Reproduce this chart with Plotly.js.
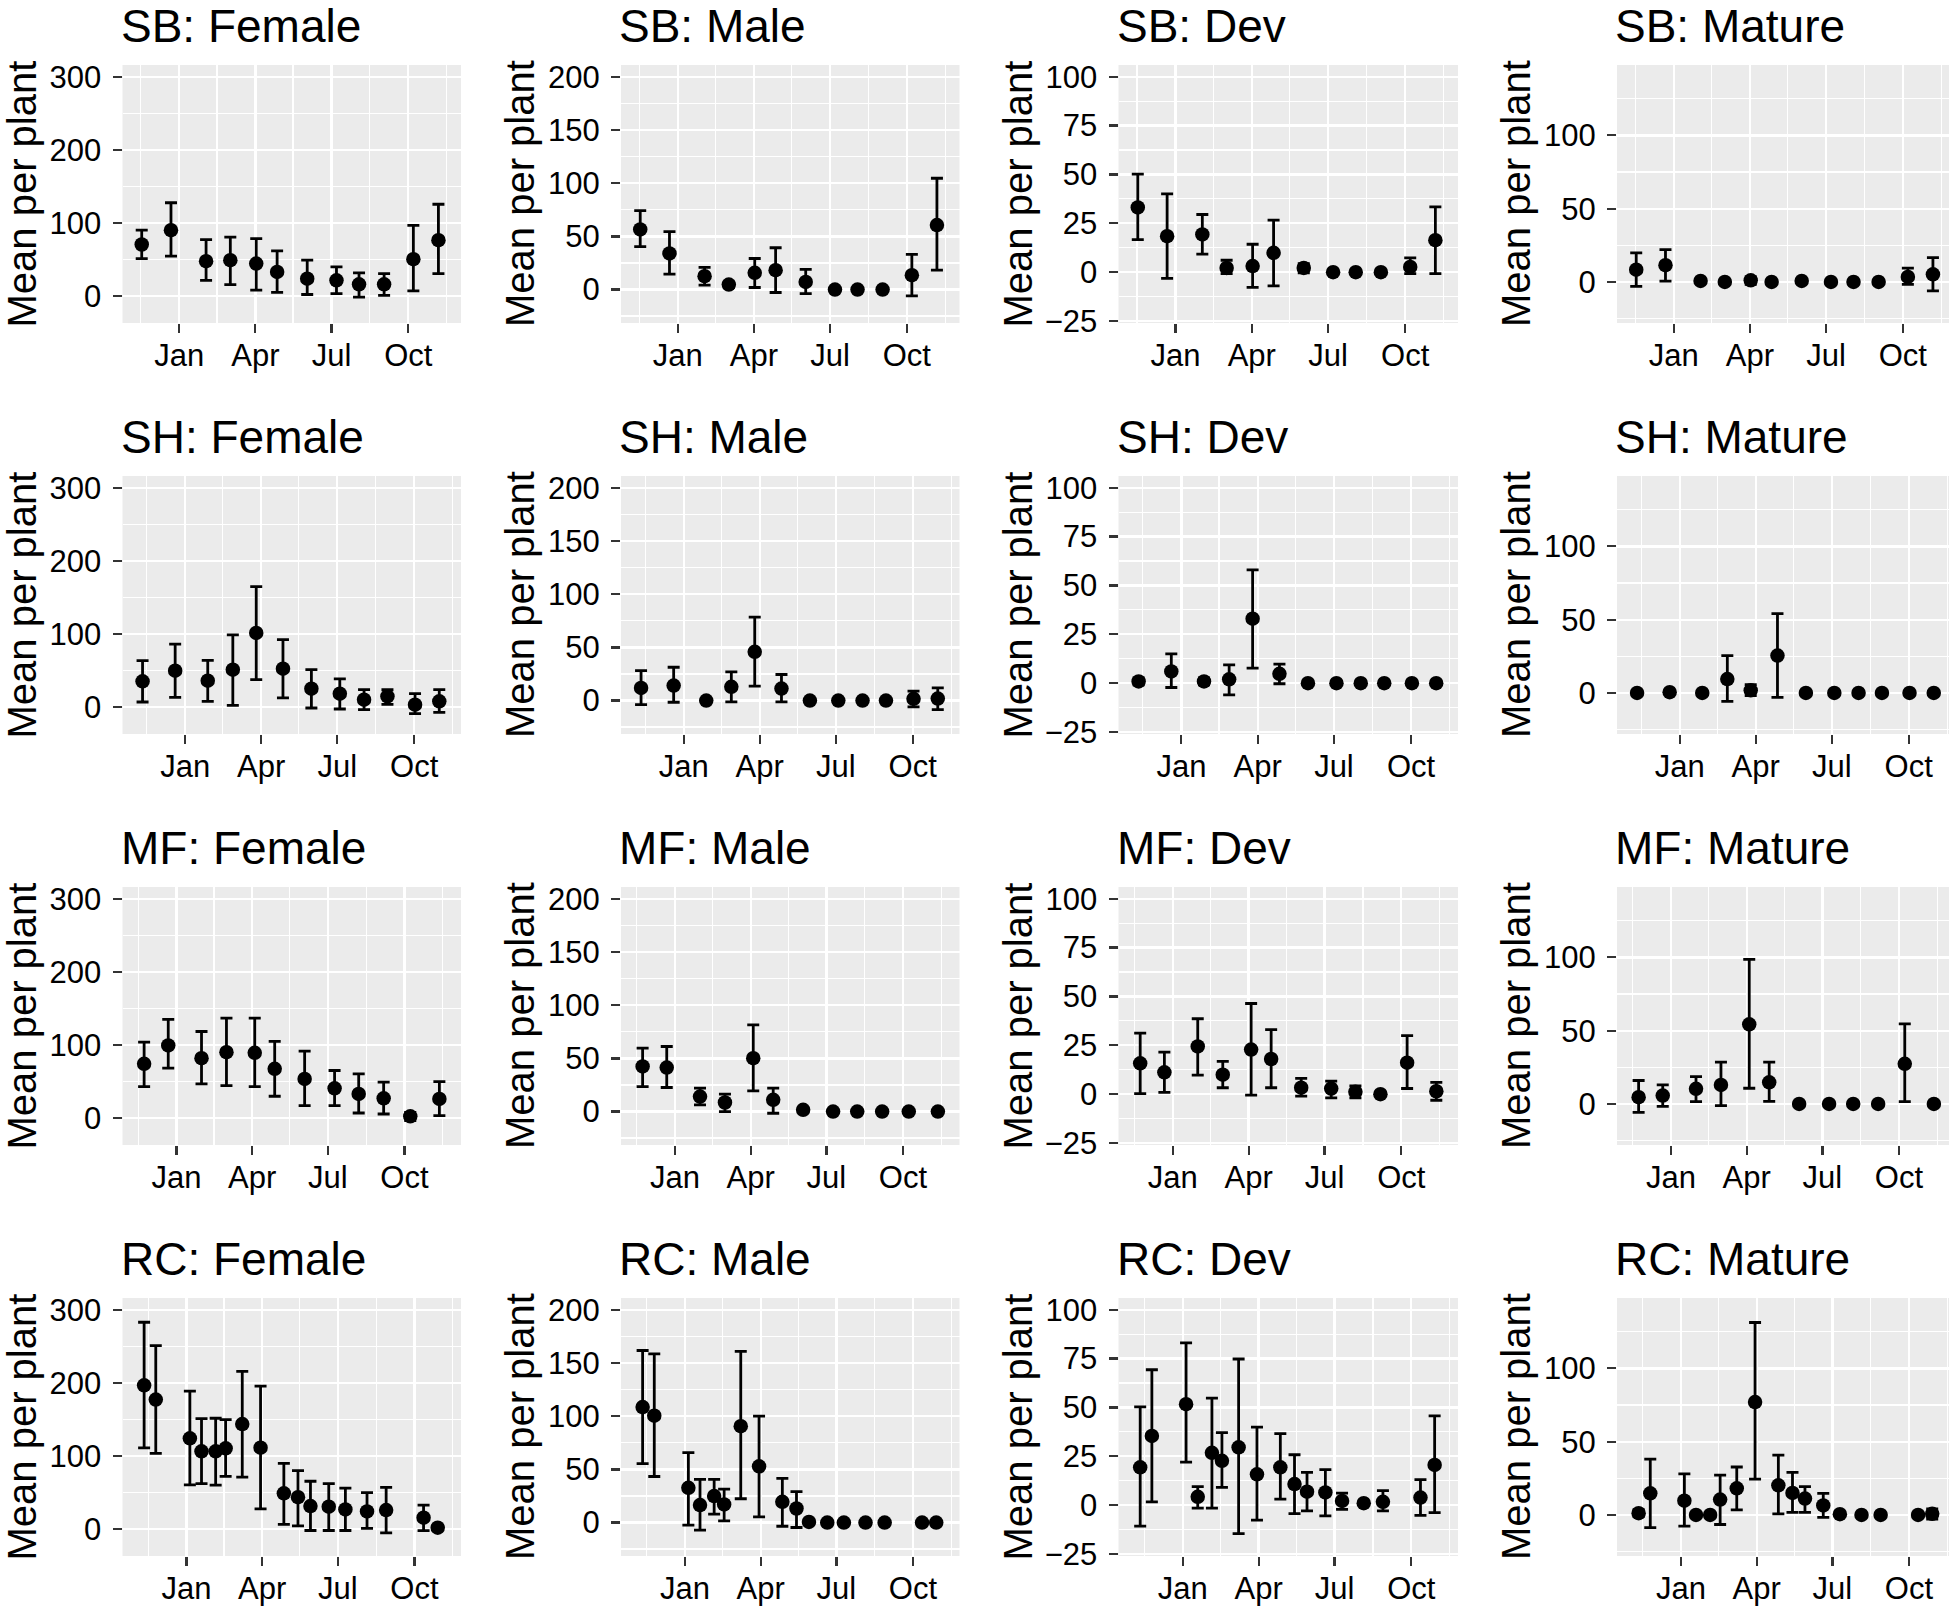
<!DOCTYPE html>
<html>
<head>
<meta charset="utf-8">
<script src="https://cdn.plot.ly/plotly-3.0.1.min.js"></script>
<style>html,body{margin:0;padding:0;background:#fff;}#chart{width:1959px;height:1608px;}</style>
</head>
<body>
<div id="chart"></div>
<script>
// ---------------- DATA ----------------
const sites = ['SB', 'SH', 'MF', 'RC'];
const stages = ['Female', 'Male', 'Dev', 'Mature'];
const monthTickDates = ['2016-01-01', '2016-04-01', '2016-07-01', '2016-10-01'];
const monthTickText = ['Jan', 'Apr', 'Jul', 'Oct'];
const monthMinorDates = ['2015-11-16', '2016-02-15', '2016-05-16', '2016-08-16', '2016-11-16'];

const sbDates = ['2015-11-17','2015-12-22','2016-02-02','2016-03-02','2016-04-02','2016-04-27','2016-06-02','2016-07-07','2016-08-03','2016-09-02','2016-10-07','2016-11-06'];
const shDates = ['2015-11-11','2015-12-20','2016-01-28','2016-02-27','2016-03-26','2016-04-27','2016-05-31','2016-07-04','2016-08-02','2016-08-30','2016-10-02','2016-10-31'];
const mfDates = ['2015-11-23','2015-12-22','2016-01-31','2016-03-01','2016-04-04','2016-04-28','2016-06-03','2016-07-09','2016-08-07','2016-09-06','2016-10-08','2016-11-12'];
const rcDates = ['2015-11-11','2015-11-25','2016-01-05','2016-01-19','2016-02-05','2016-02-17','2016-03-08','2016-03-30','2016-04-27','2016-05-14','2016-05-29','2016-06-20','2016-07-10','2016-08-05','2016-08-28','2016-10-12','2016-10-29'];

const sbRange = ['2015-10-25', '2016-12-03'];
const shRange = ['2015-10-18', '2016-11-26'];
const mfRange = ['2015-10-28', '2016-12-08'];
const rcRange = ['2015-10-16', '2016-11-26'];

// SB
const sbFemaleMean  = [70.9, 90.5, 48.0, 49.4, 44.8, 33.4, 24.2, 21.9, 16.5, 16.5, 50.8, 76.8];
const sbFemaleUpper = [90.5, 128.0, 77.7, 80.9, 79.0, 62.1, 49.4, 40.2, 32.0, 31.0, 97.1, 126.0];
const sbFemaleLower = [51.7, 54.9, 21.9, 16.0, 8.5, 5.5, 2.5, 3.7, -1.0, 1.4, 7.5, 31.0];
const sbMaleMean  = [56.6, 34.0, 12.6, 4.7, 15.7, 18.2, 7.2, 0, 0, 0, 13.5, 60.7];
const sbMaleUpper = [74.2, 54.4, 20.8, 7.2, 29.2, 39.3, 18.9, 0, 0, 0, 33.0, 104.7];
const sbMaleLower = [40.3, 14.5, 4.1, 1.9, 1.9, -2.8, -3.8, 0, 0, 0, -5.9, 18.2];
const sbDevMean  = [33.1, 18.4, 19.3, 2.2, 3.1, 9.9, 2.2, 0, 0, 0, 2.7, 16.4];
const sbDevUpper = [50.2, 40.1, 29.5, 6.1, 14.3, 26.6, 4.4, 0, 0, 0, 7.3, 33.4];
const sbDevLower = [16.7, -3.2, 9.2, -0.7, -7.8, -7.0, -0.3, 0, 0, 0, -0.7, -0.7];
const sbMatureMean  = [8.4, 11.4, 0.7, 0, 1.1, 0, 0.7, 0, 0, 0, 3.4, 5.2];
const sbMatureUpper = [19.8, 22.0, 0.7, 0, 3.4, 0, 0.7, 0, 0, 0, 9.5, 16.6];
const sbMatureLower = [-3.0, 0.5, 0.7, 0, -1.6, 0, 0.7, 0, 0, 0, -1.6, -6.1];

// SH
const shFemaleMean  = [35.6, 50.2, 36.5, 51.5, 101.7, 52.9, 25.5, 18.7, 10.5, 15.0, 3.6, 8.2];
const shFemaleUpper = [63.8, 86.6, 64.3, 99.2, 165.1, 92.6, 51.5, 38.8, 24.2, 24.2, 18.7, 24.2];
const shFemaleLower = [7.3, 13.7, 8.2, 2.7, 37.8, 12.8, -0.9, -2.3, -3.2, 4.0, -8.7, -6.8];
const shMaleMean  = [11.9, 14.1, 0, 12.9, 45.8, 11.3, 0, 0, 0, 0, 1.6, 1.9];
const shMaleUpper = [28.2, 31.3, 0, 27.0, 78.4, 24.5, 0, 0, 0, 0, 8.8, 11.9];
const shMaleLower = [-3.8, -1.6, 0, -1.3, 13.5, -1.3, 0, 0, 0, 0, -5.9, -8.5];
const shDevMean  = [0.9, 6.0, 0.9, 2.0, 33.0, 4.8, 0, 0, 0, 0, 0, 0];
const shDevUpper = [2.6, 15.0, 2.6, 9.4, 58.0, 9.7, 0, 0, 0, 0, 0, 0];
const shDevLower = [-0.9, -2.2, -0.9, -6.0, 7.7, -0.3, 0, 0, 0, 0, 0, 0];
const shMatureMean  = [0, 0.5, 0, 9.5, 1.8, 25.5, 0, 0, 0, 0, 0, 0];
const shMatureUpper = [0, 0.5, 0, 25.5, 5.7, 54.1, 0, 0, 0, 0, 0, 0];
const shMatureLower = [0, 0.5, 0, -5.7, -1.8, -3.0, 0, 0, 0, 0, 0, 0];

// MF
const mfFemaleMean  = [74.5, 99.7, 82.3, 90.5, 89.6, 67.7, 53.9, 41.1, 33.4, 27.4, 2.7, 26.5];
const mfFemaleUpper = [104.3, 135.4, 118.8, 137.2, 137.2, 105.2, 91.9, 65.4, 60.8, 49.4, 8.2, 50.3];
const mfFemaleLower = [43.4, 68.6, 47.1, 44.8, 43.4, 30.2, 17.4, 17.4, 7.3, 5.9, -3.2, 3.7];
const mfMaleMean  = [42.4, 41.4, 14.1, 8.5, 50.2, 11.0, 1.6, 0, 0, 0, 0, 0];
const mfMaleUpper = [59.7, 61.2, 22.0, 16.3, 81.6, 22.0, 1.6, 0, 0, 0, 0, 0];
const mfMaleLower = [23.5, 22.6, 6.3, 0.0, 19.5, -1.6, 1.6, 0, 0, 0, 0, 0];
const mfDevMean  = [15.8, 11.2, 24.4, 10.0, 22.8, 18.0, 3.3, 2.9, 1.2, 0, 16.1, 1.5];
const mfDevUpper = [31.2, 21.5, 38.6, 16.8, 46.4, 33.0, 8.1, 6.7, 4.3, 0, 30.0, 6.0];
const mfDevLower = [0.3, 0.9, 9.8, 3.3, -0.5, 3.3, -1.0, -1.9, -1.9, 0, 2.9, -3.1];
const mfMatureMean  = [4.6, 5.7, 10.3, 13.0, 54.3, 14.8, 0, 0, 0, 0, 27.4, 0];
const mfMatureUpper = [16.0, 13.0, 18.7, 28.5, 98.6, 28.5, 0, 0, 0, 0, 54.6, 0];
const mfMatureLower = [-5.7, -1.6, 1.6, -1.1, 10.7, 1.8, 0, 0, 0, 0, 1.6, 0];

// RC
const rcFemaleMean  = [197.0, 177.5, 124.5, 106.7, 106.7, 110.8, 144.0, 111.7, 49.2, 43.9, 31.8, 30.9, 27.2, 24.4, 26.3, 16.0, 2.3];
const rcFemaleUpper = [283.3, 251.3, 189.0, 151.5, 152.0, 150.0, 216.0, 195.8, 90.3, 80.4, 65.8, 62.4, 56.5, 50.3, 57.4, 33.2, 5.0];
const rcFemaleLower = [111.5, 104.0, 60.8, 62.6, 60.4, 72.5, 71.5, 28.1, 6.9, 4.6, -1.6, -1.6, -1.6, 1.2, -4.8, -1.8, -0.3];
const rcMaleMean  = [108.7, 100.5, 32.7, 16.4, 24.9, 17.0, 90.7, 52.9, 19.5, 13.2, 0.6, 0, 0, 0, 0, 0, 0];
const rcMaleUpper = [161.9, 158.7, 65.7, 40.6, 40.6, 31.5, 161.0, 100.2, 41.6, 29.0, 0.6, 0, 0, 0, 0, 0, 0];
const rcMaleLower = [55.4, 43.3, -2.5, -7.2, 7.9, 1.6, 22.4, 5.3, -3.5, -4.7, 0.6, 0, 0, 0, 0, 0, 0];
const rcDevMean  = [19.4, 35.4, 51.7, 4.3, 26.8, 22.7, 29.6, 15.8, 19.4, 10.8, 6.9, 6.5, 2.2, 1.0, 1.7, 3.9, 20.6];
const rcDevUpper = [50.3, 69.3, 83.0, 9.5, 54.8, 37.1, 74.8, 39.9, 36.6, 25.8, 16.8, 18.2, 6.2, 1.0, 7.4, 13.1, 45.7];
const rcDevLower = [-10.7, 1.7, 22.0, -1.5, -1.5, 9.1, -14.6, -7.6, 3.1, -4.3, -2.9, -5.5, -2.1, 1.0, -2.9, -5.2, -3.8];
const rcMatureMean  = [1.2, 14.8, 9.7, 0, 0, 10.5, 18.2, 77.0, 20.2, 15.0, 11.2, 6.5, 0.5, 0, 0, 0, 0.8];
const rcMatureUpper = [3.6, 38.1, 28.0, 0, 0, 27.2, 32.7, 131.3, 40.8, 29.0, 19.3, 14.7, 0.5, 0, 0, 0, 4.2];
const rcMatureLower = [-1.2, -8.7, -7.6, 0, 0, -6.5, 3.4, 24.4, 0.7, 1.7, 1.7, -1.7, 0.5, 0, 0, 0, -2.9];

// y-axis settings per stage column
const femaleTicks = [0, 100, 200, 300];
const femaleMinor = [50, 150, 250];
const maleTicks = [0, 50, 100, 150, 200];
const maleMinor = [-25, 25, 75, 125, 175];
const devTicks = [-25, 0, 25, 50, 75, 100];
const devMinor = [-12.5, 12.5, 37.5, 62.5, 87.5];
const matureTicks = [0, 50, 100];
const matureMinor = [-25, 25, 75, 125];
const femaleRange = [-36.5, 316.5];
const maleRange = [-31.5, 211.3];
const devRange = [-26, 106];
const matureRange = [-28, 148];

// ---------------- BUILD ----------------
const W = 1959, H = 1608;
const colPx = [[122.5, 461], [621, 959.5], [1118.5, 1458], [1617, 1949]];
const rowPx = [[65, 323], [476, 734], [887, 1145], [1298, 1556]];
const FONT = 'Liberation Sans, Arial, Helvetica, sans-serif';

const rowDates = [sbDates, shDates, mfDates, rcDates];
const rowRanges = [sbRange, shRange, mfRange, rcRange];
const series = [
  [[sbFemaleMean, sbFemaleUpper, sbFemaleLower], [sbMaleMean, sbMaleUpper, sbMaleLower], [sbDevMean, sbDevUpper, sbDevLower], [sbMatureMean, sbMatureUpper, sbMatureLower]],
  [[shFemaleMean, shFemaleUpper, shFemaleLower], [shMaleMean, shMaleUpper, shMaleLower], [shDevMean, shDevUpper, shDevLower], [shMatureMean, shMatureUpper, shMatureLower]],
  [[mfFemaleMean, mfFemaleUpper, mfFemaleLower], [mfMaleMean, mfMaleUpper, mfMaleLower], [mfDevMean, mfDevUpper, mfDevLower], [mfMatureMean, mfMatureUpper, mfMatureLower]],
  [[rcFemaleMean, rcFemaleUpper, rcFemaleLower], [rcMaleMean, rcMaleUpper, rcMaleLower], [rcDevMean, rcDevUpper, rcDevLower], [rcMatureMean, rcMatureUpper, rcMatureLower]]
];
const yTicks = [femaleTicks, maleTicks, devTicks, matureTicks];
const yMinor = [femaleMinor, maleMinor, devMinor, matureMinor];
const yRanges = [femaleRange, maleRange, devRange, matureRange];

const traces = [];
const layout = {
  width: W, height: H,
  margin: {l: 0, r: 0, t: 0, b: 0},
  paper_bgcolor: '#FFFFFF',
  plot_bgcolor: '#EBEBEB',
  showlegend: false,
  font: {family: FONT, color: '#000000'},
  annotations: []
};

for (let r = 0; r < 4; r++) {
  for (let c = 0; c < 4; c++) {
    const n = r * 4 + c + 1;
    const xa = 'xaxis' + (n === 1 ? '' : n);
    const ya = 'yaxis' + (n === 1 ? '' : n);
    const xid = 'x' + (n === 1 ? '' : n);
    const yid = 'y' + (n === 1 ? '' : n);
    const [mean, hi, lo] = series[r][c];
    traces.push({
      type: 'scatter', mode: 'markers',
      x: rowDates[r], y: mean,
      xaxis: xid, yaxis: yid,
      marker: {color: '#000000', size: 14.5},
      error_y: {
        type: 'data', symmetric: false,
        array: hi.map((v, i) => v - mean[i]),
        arrayminus: lo.map((v, i) => mean[i] - v),
        color: '#000000', thickness: 2.8, width: 6
      },
      hoverinfo: 'skip'
    });

    // x range (last column panel is narrower; same scale)
    let xr = rowRanges[r].slice();
    if (c === 3) {
      const s = Date.parse(xr[0]), e = Date.parse(xr[1]);
      const w0 = colPx[0][1] - colPx[0][0];
      const w3 = colPx[3][1] - colPx[3][0];
      xr = [s, s + (e - s) * w3 / w0];
    }
    const [x0, x1] = colPx[c];
    const [y0, y1] = rowPx[r];
    layout[xa] = {
      type: 'date', domain: [x0 / W, x1 / W], anchor: yid,
      range: xr, tickmode: 'array', tickvals: monthTickDates, ticktext: monthTickText,
      showgrid: true, gridcolor: '#FFFFFF', gridwidth: 2.3,
      minor: {tickmode: 'array', tickvals: monthMinorDates, showgrid: true, gridcolor: '#FFFFFF', gridwidth: 1.2, ticks: ''},
      ticks: 'outside', ticklen: 9, tickwidth: 2.2, tickcolor: '#333333',
      tickfont: {family: FONT, size: 31, color: '#000000'},
      ticklabelstandoff: -4,
      showline: false, zeroline: false, fixedrange: true
    };
    layout[ya] = {
      domain: [1 - y1 / H, 1 - y0 / H], anchor: xid,
      range: yRanges[c], tickmode: 'array', tickvals: yTicks[c],
      showgrid: true, gridcolor: '#FFFFFF', gridwidth: 2.3,
      minor: {tickmode: 'array', tickvals: yMinor[c], showgrid: true, gridcolor: '#FFFFFF', gridwidth: 1.2, ticks: ''},
      ticks: 'outside', ticklen: 9, tickwidth: 2.2, tickcolor: '#333333',
      tickfont: {family: FONT, size: 31, color: '#000000'},
      ticklabelstandoff: 5,
      showline: false, zeroline: false, fixedrange: true
    };

    // panel title
    layout.annotations.push({
      xref: 'paper', yref: 'paper',
      x: (x0 - 3) / W, y: 1 - (y0 - 39) / H,
      xanchor: 'left', yanchor: 'middle',
      text: sites[r] + ': ' + stages[c],
      showarrow: false, borderpad: 0,
      font: {family: FONT, size: 46, color: '#000000'}
    });
    // y axis title
    layout.annotations.push({
      xref: 'paper', yref: 'paper',
      x: (x0 - 101) / W, y: 1 - ((y0 + y1) / 2) / H,
      xanchor: 'center', yanchor: 'middle',
      text: 'Mean per plant', textangle: -90,
      showarrow: false, borderpad: 0,
      font: {family: FONT, size: 40, color: '#000000'}
    });
  }
}

Plotly.newPlot('chart', traces, layout, {staticPlot: true, displayModeBar: false});
</script>
</body>
</html>
